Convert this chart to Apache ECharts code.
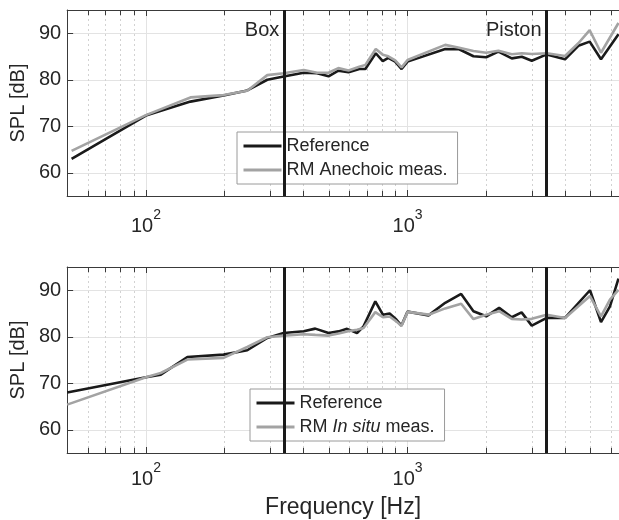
<!DOCTYPE html>
<html><head><meta charset="utf-8">
<script src="https://cdn.jsdelivr.net/npm/echarts@6/dist/echarts.min.js"></script>
<style>html,body{margin:0;padding:0;background:#fff}#c{width:619px;height:520px}</style>
</head><body><div id="c"></div>
<script>
// ---- data ----
const topFreq = [52,100,148,198,244,291,336,401,451,499,544,595,654,690,756,804,844,897,949,1000,1393,1575,1786,1998,2225,2503,2734,2984,3404,3999,4496,4969,5488,6400];
const topReference = [63.0,72.3,75.3,76.6,77.7,80.0,80.7,81.5,81.4,80.75,81.95,81.6,82.3,82.3,85.7,84.0,84.7,83.9,82.3,83.9,86.6,86.55,85.05,84.85,86.05,84.6,84.95,84.1,85.45,84.4,87.3,88.2,84.4,89.8];
const topAnechoic = [64.7,72.4,76.2,76.7,77.65,81.0,81.4,82.1,81.5,81.5,82.5,82.0,82.8,83.2,86.6,85.4,85.05,84.15,82.65,84.25,87.5,86.9,86.2,85.8,86.25,85.5,85.7,85.55,85.7,85.1,87.85,90.65,85.8,92.2];

const botFreq = [50,100,114,144,198,244,291,336,401,444,499,545,587,641,679,753,805,854,906,948,1000,1203,1393,1603,1786,1998,2239,2503,2728,2984,3404,3999,4981,5488,5939,6400];
const botReference = [68.0,71.3,71.85,75.65,76.15,77.1,79.75,80.8,81.2,81.75,80.8,81.15,81.7,80.8,82.25,87.6,84.75,85.0,83.7,82.4,85.4,84.6,87.3,89.2,85.5,84.4,86.2,84.2,85.25,82.4,84.05,84.05,90.0,83.15,86.55,92.5];
const botInSitu = [65.4,71.3,72.2,75.1,75.45,77.8,79.9,80.25,80.55,80.4,80.25,80.7,81.15,81.5,81.9,85.3,84.2,84.35,83.3,82.3,85.35,84.75,86.1,87.1,83.8,84.75,85.5,83.85,83.7,83.85,84.75,84.05,88.75,84.4,88.0,90.1];

const markerFreqs = [338, 3400];
const markerLabels = ['Box', 'Piston'];
const markerLabelLevel = 90.7;
const minorFreqs = [60,70,80,90,200,300,400,500,600,700,800,900,2000,3000,4000,5000,6000];
const xRange = [50, 6430];
const yRange = [55, 95];

// ---- styles ----
const FONT = '"Liberation Sans", Arial, Helvetica, sans-serif';
const TXT = '#262626';
const AX = '#3a3a3a';
const BLACK = '#1a1a1a';
const GRAY = '#a3a3a3';
const MINOR_TICK_DB = 1.1;

const pair = (xs, ys) => xs.map((x, i) => [x, ys[i]]);

function xAxes(gridIndex, showName, labelMargin) {
  return [{
    type: 'log', logBase: 10, gridIndex, min: xRange[0], max: xRange[1], position: 'bottom',
    axisLine: {show: true, lineStyle: {color: AX, width: 1}},
    axisTick: {show: true, inside: true, length: 6, lineStyle: {color: AX}},
    splitLine: {show: true, lineStyle: {color: '#e3e3e3', width: 1}},
    axisLabel: {
      show: true, margin: labelMargin, showMinLabel: false, showMaxLabel: false,
      formatter: v => {
        const e = Math.log10(v);
        if (Math.abs(e - Math.round(e)) > 1e-6) return '';
        return '{b|10}{s|' + Math.round(e) + '}';
      },
      rich: {
        b: {fontSize: 20, fontFamily: FONT, color: TXT, verticalAlign: 'bottom', lineHeight: 28},
        s: {fontSize: 14, fontFamily: FONT, color: TXT, verticalAlign: 'top', lineHeight: 28}
      }
    },
    name: showName ? 'Frequency [Hz]' : '', nameLocation: 'middle', nameGap: 43,
    nameTextStyle: {fontSize: 23, fontFamily: FONT, color: TXT}
  }, {
    type: 'log', logBase: 10, gridIndex, min: xRange[0], max: xRange[1], position: 'top',
    axisLine: {show: true, lineStyle: {color: AX, width: 1}},
    axisTick: {show: true, inside: true, length: 6, lineStyle: {color: AX}},
    splitLine: {show: false}, axisLabel: {show: false}
  }];
}
function yAxis(gridIndex) {
  return {
    type: 'value', gridIndex, min: yRange[0], max: yRange[1], splitNumber: 4,
    axisLine: {show: true, lineStyle: {color: AX, width: 1}},
    axisTick: {show: true, inside: true, length: 6, lineStyle: {color: AX}},
    splitLine: {show: true, lineStyle: {color: '#e3e3e3', width: 1}},
    axisLabel: {
      showMinLabel: false, showMaxLabel: false, margin: 6,
      fontSize: 20, fontFamily: FONT, color: TXT,
      formatter: v => (v % 10 === 0 ? String(v) : '')
    },
    name: 'SPL [dB]', nameLocation: 'middle', nameGap: 34,
    nameTextStyle: {fontSize: 20, fontFamily: FONT, color: TXT}
  };
}

function minorSeries(xi, yi) {
  const grid = minorFreqs.map(f => ({xAxis: f}));
  const ticks = [];
  minorFreqs.forEach(f => {
    ticks.push([{coord: [f, yRange[0]]}, {coord: [f, yRange[0] + MINOR_TICK_DB]}]);
    ticks.push([{coord: [f, yRange[1]]}, {coord: [f, yRange[1] - MINOR_TICK_DB]}]);
  });
  return [{
    type: 'line', xAxisIndex: xi, yAxisIndex: yi, data: [], silent: true, z: 1,
    markLine: {silent: true, symbol: 'none', animation: false, z: 1,
      label: {show: false},
      lineStyle: {color: '#d2d2d2', type: [2, 3], width: 1},
      data: grid}
  }, {
    type: 'line', xAxisIndex: xi, yAxisIndex: yi, data: [], silent: true, z: 1,
    markLine: {silent: true, symbol: 'none', animation: false, z: 1,
      label: {show: false},
      lineStyle: {color: AX, type: 'solid', width: 1},
      data: ticks}
  }];
}

function markerSeries(xi, yi, withText) {
  return {
    type: 'line', xAxisIndex: xi, yAxisIndex: yi, data: [], silent: true, z: 10,
    markLine: {silent: true, symbol: 'none', animation: false, z: 10,
      label: {show: false},
      lineStyle: {color: BLACK, type: 'solid', width: 3},
      data: markerFreqs.map(f => ({xAxis: f}))},
    markPoint: withText ? {
      silent: true, animation: false, symbol: 'circle', symbolSize: 0,
      label: {show: true, position: 'left', distance: 5, formatter: p => p.name,
        fontSize: 20, fontFamily: FONT, color: TXT},
      data: markerFreqs.map((f, i) => ({name: markerLabels[i], coord: [f, markerLabelLevel]}))
    } : undefined
  };
}

function curve(name, xi, yi, xs, ys, color) {
  return {
    name, type: 'line', xAxisIndex: xi, yAxisIndex: yi, data: pair(xs, ys),
    symbol: 'none', showSymbol: false, animation: false, z: 5,
    lineStyle: {color, width: 2.6}, itemStyle: {color}
  };
}

const legendBase = {
  orient: 'vertical', padding: [4, 10, 4, 5], itemGap: 4, itemWidth: 38, itemHeight: 14,
  backgroundColor: '#fff', borderColor: '#9a9a9a', borderWidth: 1, borderRadius: 0,
  selectedMode: false,
  itemStyle: {opacity: 0, borderWidth: 0},
  lineStyle: {width: 3},
  textStyle: {fontSize: 18, fontFamily: FONT, color: TXT, lineHeight: 20,
    rich: {i: {fontSize: 18, fontFamily: FONT, color: TXT, fontStyle: 'italic'}}}
};

const option = {
  backgroundColor: '#fff',
  animation: false,
  grid: [
    {left: 66.4, top: 10, width: 552.6, height: 186},
    {left: 66.4, top: 267, width: 552.6, height: 186}
  ],
  xAxis: [...xAxes(0, false, 12), ...xAxes(1, true, 8)],
  yAxis: [yAxis(0), yAxis(1)],
  legend: [
    Object.assign({}, legendBase, {left: 237, top: 132, data: ['Reference', 'RM Anechoic meas.']}),
    Object.assign({}, legendBase, {left: 250, top: 389, data: ['Reference', 'RM In situ meas.'],
      formatter: n => n === 'RM In situ meas.' ? 'RM {i|In situ} meas.' : n})
  ],
  series: [
    ...minorSeries(0, 0),
    ...minorSeries(2, 1),
    curve('Reference', 0, 0, topFreq, topReference, BLACK),
    curve('RM Anechoic meas.', 0, 0, topFreq, topAnechoic, GRAY),
    curve('Reference', 2, 1, botFreq, botReference, BLACK),
    curve('RM In situ meas.', 2, 1, botFreq, botInSitu, GRAY),
    markerSeries(0, 0, true),
    markerSeries(2, 1, false)
  ]
};
const chart = echarts.init(document.getElementById('c'), null, {renderer: 'canvas'});
chart.setOption(option);
</script>
</body></html>
